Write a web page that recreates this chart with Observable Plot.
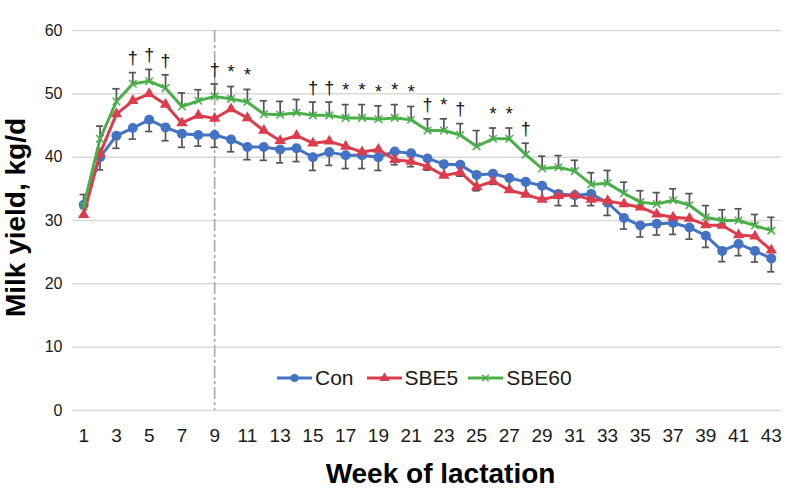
<!DOCTYPE html>
<html>
<head>
<meta charset="utf-8">
<script src="https://cdn.jsdelivr.net/npm/d3@7"></script>
<script src="https://cdn.jsdelivr.net/npm/@observablehq/plot@0.6"></script>
<style>
  body { margin: 0; background: #fff; font-family: "Liberation Sans", Arial, sans-serif; }
  #wrap { position: relative; width: 788px; height: 490px; overflow: hidden; }
  #legend { position: absolute; left: 277px; top: 365px; height: 26px; display: flex; align-items: center; font-size: 21px; color: #1a1a1a; }
  #legend .item { display: flex; align-items: center; }
  #legend svg { display: block; }
</style>
</head>
<body>
<div id="wrap">
  <div id="chart"></div>
  <div id="legend"></div>
</div>
<script>
// ---- data ----
const weeks = [1,2,3,4,5,6,7,8,9,10,11,12,13,14,15,16,17,18,19,20,21,22,23,24,25,26,27,28,29,30,31,32,33,34,35,36,37,38,39,40,41,42,43];
const con   = [32.5,40.0,43.4,44.6,45.9,44.7,43.7,43.5,43.5,42.8,41.6,41.6,41.2,41.4,40.0,40.8,40.3,40.3,40.0,40.9,40.6,39.8,38.9,38.8,37.2,37.4,36.7,36.1,35.5,34.2,34.0,34.2,32.8,30.4,29.2,29.5,29.6,28.9,27.6,25.2,26.3,25.2,24.0];
const sbe5  = [30.9,40.6,46.8,48.9,50.0,48.3,45.4,46.6,46.1,47.6,46.2,44.2,42.6,43.4,42.2,42.5,41.7,40.8,41.2,39.6,39.3,38.5,37.1,37.6,35.3,36.2,34.8,34.1,33.3,33.9,34.0,33.3,33.1,32.6,32.1,31.0,30.5,30.3,29.3,29.2,27.7,27.5,25.3];
const sbe60 = [32.3,42.9,48.8,51.6,52.0,50.9,48.0,48.9,49.6,49.2,48.7,46.8,46.7,47.0,46.6,46.6,46.2,46.2,46.0,46.2,45.9,44.2,44.2,43.5,41.7,42.9,42.9,40.4,38.2,38.4,37.8,35.7,35.9,34.3,32.9,32.6,33.2,32.4,30.5,30.0,30.0,29.2,28.4];
const sem   = [1.8,2.0,2.0,1.75,1.85,2.1,2.15,1.75,1.95,1.95,2.0,2.1,2.1,2.1,2.1,2.1,2.1,2.1,2.1,2.1,2.1,1.85,1.85,1.8,2.5,1.7,1.7,1.8,1.95,1.85,1.7,1.85,2.0,1.75,1.8,1.8,1.8,1.85,1.85,1.7,1.85,1.75,2.1];
const sigWeeks = [4,5,6,9,10,11,15,16,17,18,19,20,21,22,23,24,26,27,28];
const sigMarks = ["†","†","†","†","*","*","†","†","*","*","*","*","*","†","*","†","*","*","†"];
const xTicks = [1,3,5,7,9,11,13,15,17,19,21,23,25,27,29,31,33,35,37,39,41,43];
const yTicks = [0,10,20,30,40,50,60];
const refWeek = [9];
const seriesNames = ["Con","SBE5","SBE60"];
const seriesColors = ["#4472C4","#DC3C4C","#4BAF4B"];
const xTitle = "Week of lactation";
const yTitle = "Milk yield, kg/d";

// ---- derived tables ----
const rows = weeks.map((w, i) => ({week: w, con: con[i], sbe5: sbe5[i], sbe60: sbe60[i], se: sem[i]}));
const sig = sigWeeks.map((w, i) => ({week: w, mark: sigMarks[i], top: sbe60[w - 1] + sem[w - 1]}));
const errColor = "#555555";
const capHalf = 0.22;

const chart = Plot.plot({
  width: 788,
  height: 490,
  marginTop: 30,
  marginBottom: 80,
  marginLeft: 75,
  marginRight: 9,
  x: {domain: [0.5, 43.5]},
  y: {domain: [0, 60]},
  style: {fontFamily: "'Liberation Sans', Arial, sans-serif", background: "white", color: "#1a1a1a"},
  marks: [
    Plot.ruleY(yTicks, {stroke: "#d9d9d9", strokeWidth: 1.5, insetLeft: -3, insetRight: -2}),
    Plot.ruleX(refWeek, {stroke: "#a8a8a8", strokeWidth: 1.6, strokeDasharray: "12,3,3,3"}),
    Plot.axisY(yTicks, {tickSize: 0, tickPadding: 13, fontSize: 16, label: null, fill: "#1a1a1a"}),
    Plot.axisX(xTicks, {tickSize: 0, tickPadding: 18, fontSize: 19, label: null, fill: "#1a1a1a"}),
    // error bars: SBE60 upward, Con downward
    Plot.ruleX(rows, {x: "week", y1: "sbe60", y2: d => d.sbe60 + d.se, stroke: errColor, strokeWidth: 1.7}),
    Plot.ruleY(rows, {y: d => d.sbe60 + d.se, x1: d => d.week - capHalf, x2: d => d.week + capHalf, stroke: errColor, strokeWidth: 1.7}),
    Plot.ruleX(rows, {x: "week", y1: "con", y2: d => d.con - d.se, stroke: errColor, strokeWidth: 1.7}),
    Plot.ruleY(rows, {y: d => d.con - d.se, x1: d => d.week - capHalf, x2: d => d.week + capHalf, stroke: errColor, strokeWidth: 1.7}),
    // Con
    Plot.line(rows, {x: "week", y: "con", stroke: seriesColors[0], strokeWidth: 3}),
    Plot.dot(rows, {x: "week", y: "con", fill: seriesColors[0], r: 5, symbol: "circle"}),
    // SBE5
    Plot.line(rows, {x: "week", y: "sbe5", stroke: seriesColors[1], strokeWidth: 3}),
    Plot.dot(rows, {x: "week", y: "sbe5", fill: seriesColors[1], r: 4.2, symbol: "triangle"}),
    // SBE60
    Plot.line(rows, {x: "week", y: "sbe60", stroke: seriesColors[2], strokeWidth: 3}),
    Plot.dot(rows, {x: "week", y: "sbe60", stroke: seriesColors[2], r: 3.5, symbol: "times", strokeWidth: 1.5}),
    // significance marks
    Plot.text(sig, {x: "week", y: "top", text: "mark", dy: -14, fontSize: 18, fill: "#111", lineAnchor: "middle"}),
    // axis titles
    Plot.text([yTitle], {frameAnchor: "left", textAnchor: "middle", rotate: -90, dx: -59, dy: -3, fontSize: 28, fontWeight: "bold", fill: "#000", lineAnchor: "middle"}),
    Plot.text([xTitle], {frameAnchor: "bottom", textAnchor: "middle", dx: 13, dy: 64, fontSize: 28, fontWeight: "bold", fill: "#000", lineAnchor: "middle"})
  ]
});
document.getElementById("chart").appendChild(chart);

// ---- legend (HTML overlay) ----
const legend = document.getElementById("legend");
const symbols = ["circle", "triangle", "times"];
const gaps = [13, 10, 0];
seriesNames.forEach((name, i) => {
  const item = document.createElement("div");
  item.className = "item";
  item.style.marginRight = gaps[i] + "px";
  const svg = d3.create("svg").attr("width", 35).attr("height", 20);
  svg.append("line").attr("x1", 0).attr("x2", 35).attr("y1", 10).attr("y2", 10)
    .attr("stroke", seriesColors[i]).attr("stroke-width", 3);
  const sym = {circle: d3.symbolCircle, triangle: d3.symbolTriangle, times: d3.symbolTimes}[symbols[i]];
  const size = symbols[i] === "circle" ? Math.PI * 16 : symbols[i] === "triangle" ? Math.PI * 14 : Math.PI * 9;
  const p = svg.append("path").attr("d", d3.symbol(sym, size)()).attr("transform", "translate(17.5,10)");
  if (symbols[i] === "times") p.attr("fill", "none").attr("stroke", seriesColors[i]).attr("stroke-width", 1.5);
  else p.attr("fill", seriesColors[i]);
  item.appendChild(svg.node());
  const t = document.createElement("span");
  t.textContent = name;
  t.style.marginLeft = "3px";
  item.appendChild(t);
  legend.appendChild(item);
});
</script>
</body>
</html>
